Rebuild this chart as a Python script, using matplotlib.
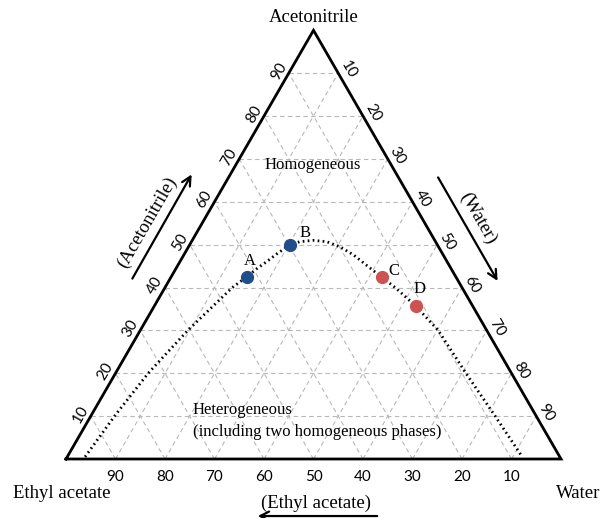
import numpy as np
import matplotlib.pyplot as plt

# binodal curve (mass %), acetonitrile / water
curve_acn = [0.5, 10, 20, 30, 40, 42.5, 44.5, 46.0, 47.9, 50.0, 50.7, 51.0, 50.7, 49.5, 47.6, 45.2, 42.4, 40.0, 35.7, 30, 20, 10, 0.9]
curve_water = [3.6, 4.8, 6.6, 9.6, 13.6, 15.3, 16.4, 17.5, 18.7, 20.3, 21.9, 24.4, 27.3, 30.6, 34.3, 38.1, 42.6, 46.5, 52.8, 60.2, 70.8, 81.7, 91.5]

# sample points
pt_names = ['A', 'B', 'C', 'D']
pt_acn = [42.5, 50.0, 42.4, 35.7]
pt_water = [15.3, 20.3, 42.6, 52.8]
pt_colors = ['#1f4e8a', '#1f4e8a', '#cd5352', '#cd5352']
label_offsets = [(3, 16), (15, 12), (12, 6), (4, 17)]  # pixels

tick_vals = [10, 20, 30, 40, 50, 60, 70, 80, 90]

H = np.sqrt(3) / 2


def tern(acn, water):
    """ternary (acetonitrile, water) in % -> cartesian in unit triangle"""
    a = np.asarray(acn, dtype=float) / 100
    w = np.asarray(water, dtype=float) / 100
    return w + a / 2, a * H


serif = 'Liberation Serif'
sans = 'Lato'

fig = plt.figure(figsize=(6.01, 5.18), dpi=100)
ax = fig.add_axes([0, 0, 1, 1])
ax.set_xlim(-66 / 495, 535 / 495)
ax.set_ylim(-59 / 495, 459 / 495)
ax.set_aspect('equal')
ax.axis('off')

# grid lines
grid_kw = dict(color='#b8b8b8', lw=0.8, ls=(0, (4, 3)), zorder=1)
for v in tick_vals:
    # constant acetonitrile
    x, y = tern([v, v], [0, 100 - v])
    ax.plot(x, y, **grid_kw)
    # constant water
    x, y = tern([0, 100 - v], [v, v])
    ax.plot(x, y, **grid_kw)
    # constant ethyl acetate
    x, y = tern([0, 100 - v], [100 - v, 0])
    ax.plot(x, y, **grid_kw)

# triangle
x, y = tern([0, 0, 100, 0], [0, 100, 0, 0])
ax.plot(x, y, color='black', lw=2, solid_joinstyle='miter', zorder=3)

# tick labels
for v in tick_vals:
    # bottom: ethyl acetate
    x, y = tern(0, 100 - v)
    ax.annotate(str(v), (x, y), xytext=(0, -18), textcoords='offset pixels',
                ha='center', va='center', fontsize=11, family=sans)
    # left: acetonitrile
    x, y = tern(v, 0)
    ax.annotate(str(v), (x, y), xytext=(-10, 2), textcoords='offset pixels',
                ha='center', va='center', fontsize=11, family=sans, rotation=60)
    # right: water
    x, y = tern(100 - v, v)
    ax.annotate(str(v), (x, y), xytext=(10, 3), textcoords='offset pixels',
                ha='center', va='center', fontsize=11, family=sans, rotation=-60)

# binodal curve
cx, cy = tern(curve_acn, curve_water)
ax.plot(cx, cy, color='black', lw=2, ls=(0, (0.6, 1.2)), zorder=4)

# points
px, py = tern(pt_acn, pt_water)
for name, x, y, c, off in zip(pt_names, px, py, pt_colors, label_offsets):
    ax.plot(x, y, 'o', color=c, ms=8.5, zorder=5)
    ax.annotate(name, (x, y), xytext=off, textcoords='offset pixels',
                ha='center', va='center', fontsize=12, family=serif)

# vertex labels
ax.text(0.5, H + 13 / 495, 'Acetonitrile', ha='center', va='center', fontsize=13.5, family=serif)
ax.text(-4 / 495, -34 / 495, 'Ethyl acetate', ha='center', va='center', fontsize=13.5, family=serif)
ax.text(512 / 495, -34 / 495, 'Water', ha='center', va='center', fontsize=13.5, family=serif)

# region labels
ax.text(0.498, 294 / 495, 'Homogeneous', ha='center', va='center', fontsize=12, family=serif)
ax.text(127 / 495, 38 / 495, 'Heterogeneous\n(including two homogeneous phases)', ha='left', va='center',
        fontsize=12, family=serif, linespacing=1.45)

# axis name arrows
arrow_kw = dict(arrowstyle='->', lw=1.6, color='black', mutation_scale=16)
ax.annotate('', xy=(0.2566, 0.5798), xytext=(0.1313, 0.3596), arrowprops=arrow_kw)
ax.text(0.1636, 0.4788, '(Acetonitrile)', rotation=60, ha='center', va='center', fontsize=13.5, family=serif)
ax.annotate('', xy=(0.8747, 0.3549), xytext=(0.7489, 0.5737), arrowprops=arrow_kw)
ax.text(0.8323, 0.4869, '(Water)', rotation=-60, ha='center', va='center', fontsize=13.5, family=serif)
ax.annotate('', xy=(0.3818, -0.1152), xytext=(0.6343, -0.1152), arrowprops=arrow_kw)
ax.text(0.505, -0.090, '(Ethyl acetate)', ha='center', va='center', fontsize=13.5, family=serif)

fig.savefig('out.png', dpi=100)
